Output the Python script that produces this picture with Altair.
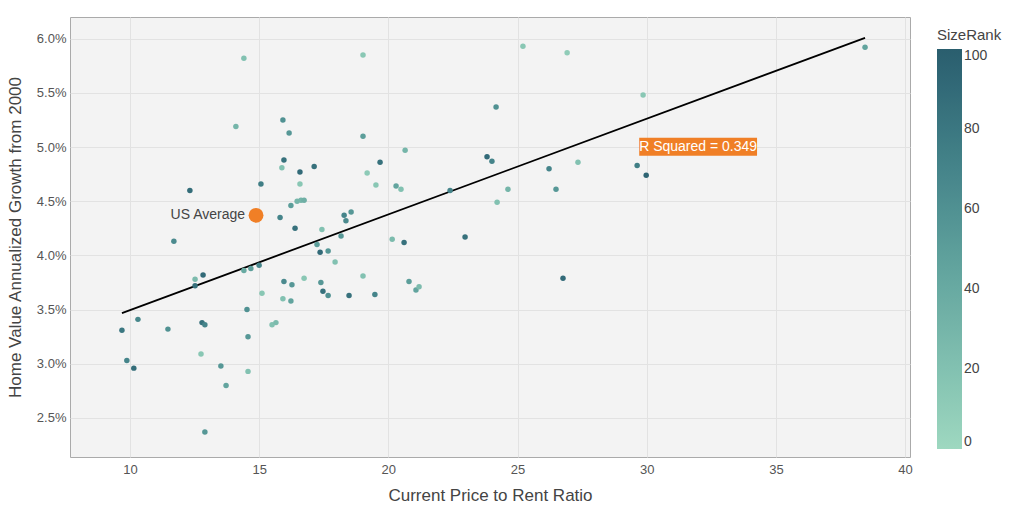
import altair as alt
import pandas as pd

# Scatter points: price-to-rent ratio, annualized growth (%), SizeRank
ratio = [9.69, 9.88, 10.15, 10.31, 11.47, 11.70, 12.32, 12.52, 12.52, 12.83,
         12.79, 12.90, 12.75, 12.90, 13.52, 13.72, 14.10, 14.41, 14.41, 14.68,
         14.53, 14.57, 14.57, 15.00, 15.07, 15.11, 15.50, 15.65, 15.81, 15.92,
         15.96, 15.88, 15.96, 15.92, 16.16, 16.23, 16.27, 16.23, 16.39, 16.58,
         16.58, 16.47, 16.62, 16.74, 16.74, 17.13, 17.24, 17.36, 17.43, 17.39,
         17.47, 17.67, 17.67, 17.94, 18.17, 18.29, 18.36, 18.56, 18.48, 19.02,
         19.02, 19.18, 19.02, 19.52, 19.48, 19.68, 20.15, 20.30, 20.49, 20.65,
         20.61, 20.80, 21.07, 21.19, 22.39, 22.97, 23.82, 24.01, 24.17, 24.21,
         24.63, 25.21, 26.22, 26.49, 26.76, 26.92, 27.34, 29.86, 29.63, 29.98,
         38.45]
growth = [3.31, 3.03, 2.96, 3.41, 3.32, 4.13, 4.60, 3.78, 3.72, 3.82,
          3.38, 3.36, 3.09, 2.37, 2.98, 2.80, 5.19, 5.82, 3.86, 3.88,
          3.50, 3.25, 2.93, 3.91, 4.66, 3.65, 3.36, 3.38, 4.35, 5.25,
          4.88, 4.81, 3.76, 3.60, 5.13, 4.46, 3.73, 3.58, 4.25, 4.77,
          4.66, 4.50, 4.51, 4.51, 3.79, 4.82, 4.10, 4.03, 4.24, 3.75,
          3.67, 3.63, 4.04, 3.94, 4.18, 4.37, 4.32, 4.40, 3.63, 5.85,
          5.10, 4.76, 3.81, 4.65, 3.64, 4.86, 4.15, 4.64, 4.61, 4.97,
          4.12, 3.76, 3.68, 3.71, 4.60, 4.17, 4.91, 4.87, 5.37, 4.49,
          4.61, 5.93, 4.80, 4.61, 3.79, 5.87, 4.86, 5.48, 4.83, 4.74,
          5.92]
size_rank = [80, 70, 88, 68, 60, 65, 88, 25, 85, 90,
             85, 70, 15, 55, 55, 45, 30, 20, 40, 50,
             60, 55, 20, 70, 75, 15, 20, 25, 70, 60,
             85, 20, 65, 20, 55, 50, 55, 45, 85, 90,
             15, 30, 30, 35, 15, 85, 50, 90, 20, 55,
             85, 60, 55, 20, 55, 70, 65, 55, 85, 15,
             50, 12, 20, 15, 70, 85, 25, 45, 20, 30,
             85, 50, 45, 25, 70, 85, 90, 70, 60, 20,
             30, 15, 70, 55, 90, 10, 20, 15, 75, 95,
             45]

# US average marker
us_ratio = [14.88]
us_growth = [4.37]
us_label = ["US Average"]

# R squared annotation (box extents in data units)
r2_text = ["R Squared = 0.349"]
r2_x = [31.99]
r2_y = [5.003]
r2_x0 = [29.71]
r2_x1 = [34.27]
r2_y0 = [4.920]
r2_y1 = [5.086]

df = pd.DataFrame({"ratio": ratio, "growth": [g / 100 for g in growth], "SizeRank": size_rank})
us = pd.DataFrame({"ratio": us_ratio, "growth": [g / 100 for g in us_growth], "label": us_label})
r2 = pd.DataFrame({"text": r2_text, "x": r2_x, "y": [v / 100 for v in r2_y],
                   "x0": r2_x0, "x1": r2_x1,
                   "y0": [v / 100 for v in r2_y0], "y1": [v / 100 for v in r2_y1]})

FONT = "Liberation Sans"
xscale = alt.Scale(domain=[7.68, 40.19], nice=False, zero=False)
yscale = alt.Scale(domain=[0.0214, 0.0620], nice=False, zero=False)

x_enc = alt.X("ratio:Q", scale=xscale,
              axis=alt.Axis(title="Current Price to Rent Ratio", values=[10, 15, 20, 25, 30, 35, 40],
                            format="d", labelPadding=6, titlePadding=11))
y_enc = alt.Y("growth:Q", scale=yscale,
              axis=alt.Axis(title="Home Value Annualized Growth from 2000",
                            values=[0.025, 0.03, 0.035, 0.04, 0.045, 0.05, 0.055, 0.06],
                            format=".1%", labelPadding=4, titlePadding=12))

points = alt.Chart(df).mark_circle(size=30, opacity=1).encode(
    x=x_enc, y=y_enc,
    color=alt.Color("SizeRank:Q",
                    scale=alt.Scale(domain=[0, 100], range=["#9ed8c0", "#5c9e9a", "#2a5e6e"]),
                    legend=alt.Legend(title="SizeRank", orient="none", legendX=867, legendY=11,
                                      direction="vertical", gradientLength=400, gradientThickness=25,
                                      values=[0, 20, 40, 60, 80, 100], titleFontSize=15,
                                      titleFontWeight="normal", labelFontSize=14, titleColor="#444",
                                      labelColor="#444", gradientStrokeWidth=0, labelOffset=2,
                                      titlePadding=6, labelFont=FONT, titleFont=FONT))
)

fit = alt.Chart(df).transform_regression("ratio", "growth").mark_line(
    color="black", strokeWidth=1.8).encode(x=x_enc, y=y_enc)

us_pt = alt.Chart(us).mark_circle(size=220, color="#f07f26", opacity=1).encode(x=x_enc, y=y_enc)
us_txt = alt.Chart(us).mark_text(align="right", dx=-11, fontSize=14, color="#444", font=FONT).encode(
    x=x_enc, y=y_enc, text="label:N")

r2_box = alt.Chart(r2).mark_rect(color="#f07f26", opacity=1).encode(
    x=alt.X("x0:Q", scale=xscale), x2="x1:Q",
    y=alt.Y("y0:Q", scale=yscale), y2="y1:Q")
r2_txt = alt.Chart(r2).mark_text(fontSize=14, color="white", font=FONT).encode(
    x=alt.X("x:Q", scale=xscale), y=alt.Y("y:Q", scale=yscale), text="text:N")

chart = alt.layer(fit, points, us_pt, us_txt, r2_box, r2_txt).properties(
    width=840, height=440,
    autosize="none",
    padding={"left": 62, "top": 9, "right": 100, "bottom": 47},
    background="white",
).configure_view(
    fill="#f3f3f3", stroke="#aaaaaa", strokeWidth=1
).configure_axis(
    grid=True, gridColor="#e2e2e2", gridWidth=1, domain=False, ticks=False,
    labelFont=FONT, titleFont=FONT, labelFontSize=13, titleFontSize=17,
    labelColor="#555", titleColor="#444", titleFontWeight="normal"
)

chart.save("out.html", embed_options={"renderer": "svg", "actions": False})
